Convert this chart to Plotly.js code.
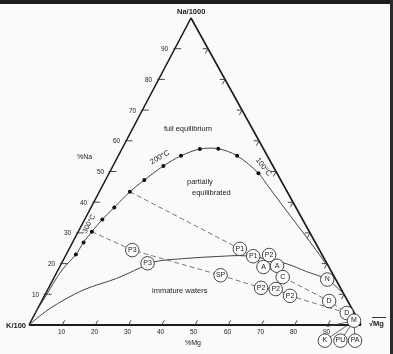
<!DOCTYPE html>
<html><head><meta charset="utf-8">
<script src="https://cdn.plot.ly/plotly-3.0.1.min.js"></script>
<style>html,body{margin:0;padding:0;background:#fafafa}#chart{width:393px;height:354px;will-change:transform}</style>
</head><body><div id="chart"></div>
<script>
// ---- DATA: ternary positions, as %Mg and %Na (%K = 100 - Mg - Na)
// full-equilibrium line: temperature dots
const eqDotMg = [2.9, 3.3, 4.1, 5.3, 7.0, 9.2, 11.7, 15.2, 18.9, 23.5, 29.0, 35.8, 45.0];
const eqDotNa = [23.0, 26.9, 30.4, 34.4, 38.3, 43.4, 47.2, 51.8, 55.1, 57.3, 57.4, 55.1, 49.4];
// full-equilibrium line: traced ends beyond the dots
const eqLeadMg = [0.0, 0.4, 1.2];
const eqLeadNa = [4.0, 9.0, 17.9];
const eqTailMg = [50.1, 56.8, 65.6, 73.4, 80.2];
const eqTailNa = [45.1, 39.4, 32.0, 25.4, 19.5];
// immature-water boundary
const immMg = [0, 3.7, 10.8, 19.0, 24.4, 27.9, 36.9, 45.7, 54.6, 67.3, 75.1, 82.6, 89.6];
const immNa = [0, 5.4, 11.4, 15.2, 18.6, 20.6, 21.7, 22.3, 22.5, 20.1, 17.4, 14.8, 10.3];
// samples
const sampleLabels = ['P3','P3','SP','P1','P1','P2','A','A','C','N','P2','P2','P2','D','D','M'];
const sampleMg = [19.2, 25.9, 49.8, 51.4, 56.6, 61.2, 61.4, 65.3, 68.8, 82.6, 64.0, 68.6, 74.0, 86.6, 93.8, 97.2];
const sampleNa = [24.4, 20.1, 16.2, 24.8, 22.4, 22.8, 18.9, 19.3, 15.6, 14.8, 12.1, 11.7, 9.5, 7.8, 3.9, 1.4];
// samples that plot on M, shown as a key below the Mg corner
const keyLabels = ['K','PU','PA'];
const keyMg = [91.6, 96.3, 100.7];
const keyNa = [-5.1, -5.1, -5.1];
const keyLeaderMg = [89.9];
const keyLeaderNa = [-0.5];
// mixing (dashed) lines
const mix1Mg = [9.2, 51.4, 68.8, 86.6, 93.8, 97.2];
const mix1Na = [43.4, 24.8, 15.6, 7.8, 3.9, 1.4];
const mix2Mg = [4.1, 19.2, 49.8, 64.0, 68.6, 74.0, 93.8, 97.2];
const mix2Na = [30.4, 24.4, 16.2, 12.1, 11.7, 9.5, 3.9, 1.4];
// axis ticks
const naTicks = [10, 20, 30, 40, 50, 60, 70, 80, 90];
const mgTicks = [10, 20, 30, 40, 50, 60, 70, 80, 90];

// ---- GEOMETRY (axis mapping of the skewed triangle)
const SKEW = 0.488;               // apex offset along x per unit Na
const PX0 = 29, PXS = 3.32;       // pixel of K corner, px per unit
const PY0 = 325, PYS = 3.07;
const W = 393, H = 354;
const X = (mg, na) => mg + SKEW * na;

const FONT = 'Liberation Sans, Arial, Helvetica, sans-serif';
const INK = '#1c1c1c';

const traces = [];
// triangle
traces.push({x:[X(0,0), X(0,100), X(100,0)], y:[0,100,0], mode:'lines', line:{color:INK, width:1.6}, hoverinfo:'skip'});
traces.push({x:[X(0,0), X(100,0)], y:[0,0], mode:'lines', line:{color:INK, width:2}, hoverinfo:'skip'});
// ticks
const tx = [], ty = [];
naTicks.forEach(v => { tx.push(X(-0.4, v), X(1.9, v), null); ty.push(v, v, null); });
mgTicks.forEach(v => { tx.push(X(v, 0), X(v, 1.5), null); ty.push(0, 1.5, null); });
naTicks.forEach(v => { tx.push(X(100 - v - 1.6, v), X(100 - v, v), X(100 - v, v - 1.6), null); ty.push(v, v, v - 1.6, null); });
traces.push({x:tx, y:ty, mode:'lines', line:{color:'#333', width:0.9}, hoverinfo:'skip'});
// full equilibrium curve
const eqMg = eqLeadMg.concat(eqDotMg, eqTailMg), eqNa = eqLeadNa.concat(eqDotNa, eqTailNa);
traces.push({x:eqMg.map((m,i)=>X(m,eqNa[i])), y:eqNa, mode:'lines', line:{color:'#444', width:1, shape:'spline'}, hoverinfo:'skip'});
// immature boundary
traces.push({x:immMg.map((m,i)=>X(m,immNa[i])), y:immNa, mode:'lines', line:{color:'#444', width:1, shape:'spline'}, hoverinfo:'skip'});
// mixing lines
[[mix1Mg,mix1Na],[mix2Mg,mix2Na]].forEach(([m,n]) => {
  traces.push({x:m.map((v,i)=>X(v,n[i])), y:n, mode:'lines', line:{color:'#555', width:0.8, dash:'5px,3px'}, hoverinfo:'skip'});
});
// leaders from M to key circles
const mI = sampleLabels.length - 1;
const lx = [], ly = [];
const leadMg = keyMg.concat(keyLeaderMg), leadNa = keyNa.concat(keyLeaderNa);
leadMg.forEach((m,i) => {
  lx.push(X(sampleMg[mI], sampleNa[mI]), X(m, leadNa[i]), null);
  ly.push(sampleNa[mI], leadNa[i], null);
});
traces.push({x:lx, y:ly, mode:'lines', line:{color:'#444', width:0.8}, hoverinfo:'skip'});
// temperature dots
traces.push({x:eqDotMg.map((m,i)=>X(m,eqDotNa[i])), y:eqDotNa, mode:'markers', marker:{color:'#111', size:4}, hoverinfo:'skip'});
// sample circles
const circ = (labels, mg, na) => ({x:mg.map((m,i)=>X(m,na[i])), y:na, text:labels, mode:'markers+text', textposition:'middle center',
  textfont:{family:FONT, size:7, color:INK}, marker:{size:13.5, color:'#fcfcfc', line:{color:'#333', width:0.9}}, hoverinfo:'skip'});
traces.push(circ(sampleLabels, sampleMg, sampleNa));
traces.push(circ(keyLabels, keyMg, keyNa));

// ---- annotations
const ann = [];
const A = (text, x, y, o={}) => ann.push(Object.assign({text, x, y, xref:'x', yref:'y', showarrow:false,
  font:{family:FONT, size:7.5, color:INK}, xanchor:'center', yanchor:'middle'}, o));
naTicks.forEach(v => A(String(v), X(0, v) - 1.0, v, {xanchor:'right', font:{family:FONT, size:6.5, color:INK}}));
mgTicks.forEach(v => A(String(v), v - 0.2, -2.2, {font:{family:FONT, size:6.5, color:INK}}));
A('<b>Na/1000</b>', 48.7, 102.0);
A('<b>K/100</b>', -3.8, -0.3);
A('<b>√Mg</b>', 104.7, 0.6);
A('%Na', 16.6, 55.0, {font:{family:FONT, size:7, color:INK}});
A('%Mg', 49.4, -5.9, {font:{family:FONT, size:7, color:INK}});
A('full equilibrium', 47.9, 63.9);
A('partially', 51.5, 46.6);
A('equilibrated', 55.0, 43.3);
A('immature waters', 45.5, 11.1);
A('200°C', 39.6, 54.9, {textangle:-30});
A('100°C', 70.9, 51.3, {textangle:52});
A('300°C', 18.0, 33.0, {textangle:-62, font:{family:FONT, size:7, color:INK}});

const layout = {
  width:W, height:H, margin:{l:0,r:0,t:0,b:0}, showlegend:false,
  paper_bgcolor:'#fafafa', plot_bgcolor:'#fafafa',
  xaxis:{range:[-PX0/PXS, (W-PX0)/PXS], visible:false, fixedrange:true},
  yaxis:{range:[(PY0-H)/PYS, PY0/PYS], visible:false, fixedrange:true},
  annotations:ann,
  shapes:[
    {type:'rect', xref:'paper', yref:'paper', x0:0, x1:1, y0:1-4/H, y1:1, fillcolor:'#1e1e1e', line:{width:0}},
    {type:'rect', xref:'paper', yref:'paper', x0:1-3/W, x1:1, y0:0, y1:1, fillcolor:'#2a2a2a', line:{width:0}},
    {type:'line', xref:'paper', yref:'paper', x0:372/W, x1:386/W, y0:1-317.5/H, y1:1-317.5/H, line:{color:INK, width:0.9}}
  ]
};
Plotly.newPlot('chart', traces, layout, {staticPlot:true, displayModeBar:false});
</script></body></html>
